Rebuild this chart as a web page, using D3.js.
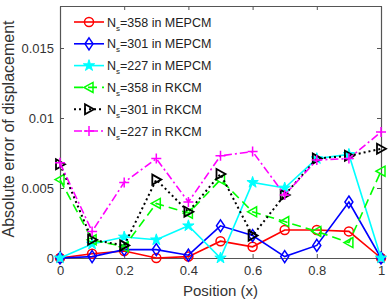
<!DOCTYPE html>
<html>
<head>
<meta charset="utf-8">
<script src="https://cdn.jsdelivr.net/npm/d3@7"></script>
<style>
  body { margin: 0; background: #fff; }
  text { font-family: "Liberation Sans", Arial, sans-serif; }
</style>
</head>
<body>
<div id="chart"></div>
<script>
// positions along the bar
let positions = [0, 0.1, 0.2, 0.3, 0.4, 0.5, 0.6, 0.7, 0.8, 0.9, 1];

// absolute errors
let mepcm358 = [0, 0.0003, 0.0005, 0, 0.0001, 0.0012, 0.0008, 0.002, 0.002, 0.0019, 0];
let mepcm301 = [0, 0.0001, 0.0006, 0.0006, 0.0002, 0.0023, 0.0016, 0.0001, 0.0009, 0.004, 0];
let mepcm227 = [0, 0.001, 0.0015, 0.0013, 0.0023, 0, 0.0054, 0.005, 0.0071, 0.0074, 0];
let rkcm358 = [0.0056, 0.0013, 0.0008, 0.0039, 0.0032, 0.0056, 0.0033, 0.0026, 0.0019, 0.0011, 0.0062];
let rkcm301 = [0.0067, 0.0013, 0.0009, 0.0056, 0.0033, 0.006, 0.0016, 0.0045, 0.0071, 0.0073, 0.0078];
let rkcm227 = [0.0068, 0.0019, 0.0054, 0.0071, 0.004, 0.0073, 0.0076, 0.0045, 0.007, 0.0071, 0.009];

let xTicks = [0, 0.2, 0.4, 0.6, 0.8, 1];
let yTicks = [0, 0.005, 0.01, 0.015];

let seriesList = [
	{ns: "358", method: "MEPCM", values: mepcm358, color: "#ff0000", dash: null, marker: "circle"},
	{ns: "301", method: "MEPCM", values: mepcm301, color: "#0000ff", dash: null, marker: "diamond"},
	{ns: "227", method: "MEPCM", values: mepcm227, color: "#00ffff", dash: null, marker: "star"},
	{ns: "358", method: "RKCM", values: rkcm358, color: "#00ff00", dash: "9,5", marker: "left"},
	{ns: "301", method: "RKCM", values: rkcm301, color: "#000000", dash: "2,3", marker: "right"},
	{ns: "227", method: "RKCM", values: rkcm227, color: "#ff00ff", dash: "8,3,2,3", marker: "plus"}
];

let margin = {top: 6, right: 9, bottom: 43, left: 60};
let width = 390 - margin.left - margin.right;
let height = 301 - margin.top - margin.bottom;

let svg = d3.select("#chart").append("svg")
	.attr("width", 390)
	.attr("height", 301)
	.append("g")
	.attr("transform", "translate(" + margin.left + "," + margin.top + ")");

let x = d3.scaleLinear().domain([0, 1]).range([0, width]);
let y = d3.scaleLinear().domain([0, 0.018]).range([height, 0]);

let axisColor = "#555";
let fmt = d => d === 0 ? "0" : String(d);

// axes (ticks inside, box on)
let xAxis = svg.append("g").attr("transform", "translate(0," + height + ")")
	.call(d3.axisBottom(x).tickValues(xTicks).tickSizeInner(-4).tickSizeOuter(0).tickPadding(8).tickFormat(fmt));
let xTop = svg.append("g")
	.call(d3.axisTop(x).tickValues(xTicks).tickSizeInner(-4).tickSizeOuter(0).tickFormat(""));
let yAxis = svg.append("g")
	.call(d3.axisLeft(y).tickValues(yTicks).tickSizeInner(-4).tickSizeOuter(0).tickPadding(6).tickFormat(fmt));
let yRight = svg.append("g").attr("transform", "translate(" + width + ",0)")
	.call(d3.axisRight(y).tickValues(yTicks).tickSizeInner(-4).tickSizeOuter(0).tickFormat(""));

[xAxis, xTop, yAxis, yRight].forEach(a => {
	a.select(".domain").attr("stroke", axisColor).attr("stroke-width", 1.2);
	a.selectAll(".tick line").attr("stroke", axisColor);
	a.selectAll("text").attr("fill", "#333").attr("font-size", 13);
});

// marker shapes
function drawMarker(g, type, color) {
	if (type === "circle") {
		g.append("circle").attr("r", 4.5).attr("fill", "none").attr("stroke", color).attr("stroke-width", 1.5);
	} else if (type === "diamond") {
		g.append("path").attr("d", "M0,-6L4,0L0,6L-4,0Z").attr("fill", "none").attr("stroke", color).attr("stroke-width", 1.5);
	} else if (type === "star") {
		g.append("path").attr("d", d3.symbol().type(d3.symbolStar).size(40)()).attr("fill", color).attr("stroke", color).attr("stroke-width", 1);
	} else if (type === "left") {
		g.append("path").attr("d", "M-5,0L4,-5L4,5Z").attr("fill", "none").attr("stroke", color).attr("stroke-width", 1.5);
	} else if (type === "right") {
		g.append("path").attr("d", "M5,0L-4,-5L-4,5Z").attr("fill", "none").attr("stroke", color).attr("stroke-width", 1.8);
	} else if (type === "plus") {
		g.append("path").attr("d", "M-5,0L5,0M0,-5L0,5").attr("fill", "none").attr("stroke", color).attr("stroke-width", 1.5);
	}
}

let line = d3.line().x((d, i) => x(positions[i])).y(d => y(d));

seriesList.forEach(s => {
	let g = svg.append("g");
	g.append("path")
		.datum(s.values)
		.attr("d", line)
		.attr("fill", "none")
		.attr("stroke", s.color)
		.attr("stroke-width", s.marker === "right" ? 2 : 1.6)
		.attr("stroke-dasharray", s.dash);
	g.selectAll(".mk")
		.data(s.values)
		.enter()
		.append("g")
		.attr("class", "mk")
		.attr("transform", (d, i) => "translate(" + x(positions[i]) + "," + y(d) + ")")
		.each(function () { drawMarker(d3.select(this), s.marker, s.color); });
});

// legend
let legend = svg.append("g").attr("transform", "translate(14,16)");
seriesList.forEach((s, i) => {
	let row = legend.append("g").attr("transform", "translate(0," + (i * 21.8) + ")");
	row.append("line")
		.attr("x1", 0).attr("x2", 30).attr("y1", 0).attr("y2", 0)
		.attr("stroke", s.color)
		.attr("stroke-width", s.marker === "right" ? 2 : 1.6)
		.attr("stroke-dasharray", s.dash);
	let m = row.append("g").attr("transform", "translate(15,0)");
	drawMarker(m, s.marker, s.color);
	let t = row.append("text").attr("x", 33).attr("y", 4.5).attr("font-size", 12.5).attr("fill", "#222");
	t.append("tspan").text("N");
	t.append("tspan").attr("font-size", 8).attr("dy", 4).text("s");
	t.append("tspan").attr("dy", -4).text("=" + s.ns + " in " + s.method);
});

// axis labels
svg.append("text")
	.attr("x", width / 2).attr("y", height + 38)
	.attr("text-anchor", "middle").attr("font-size", 15).attr("fill", "#333")
	.text("Position (x)");
svg.append("text")
	.attr("transform", "translate(-46," + (height / 2 - 3) + ") rotate(-90)")
	.attr("text-anchor", "middle").attr("font-size", 16).attr("fill", "#333")
	.text("Absolute error of displacement");
</script>
</body>
</html>
